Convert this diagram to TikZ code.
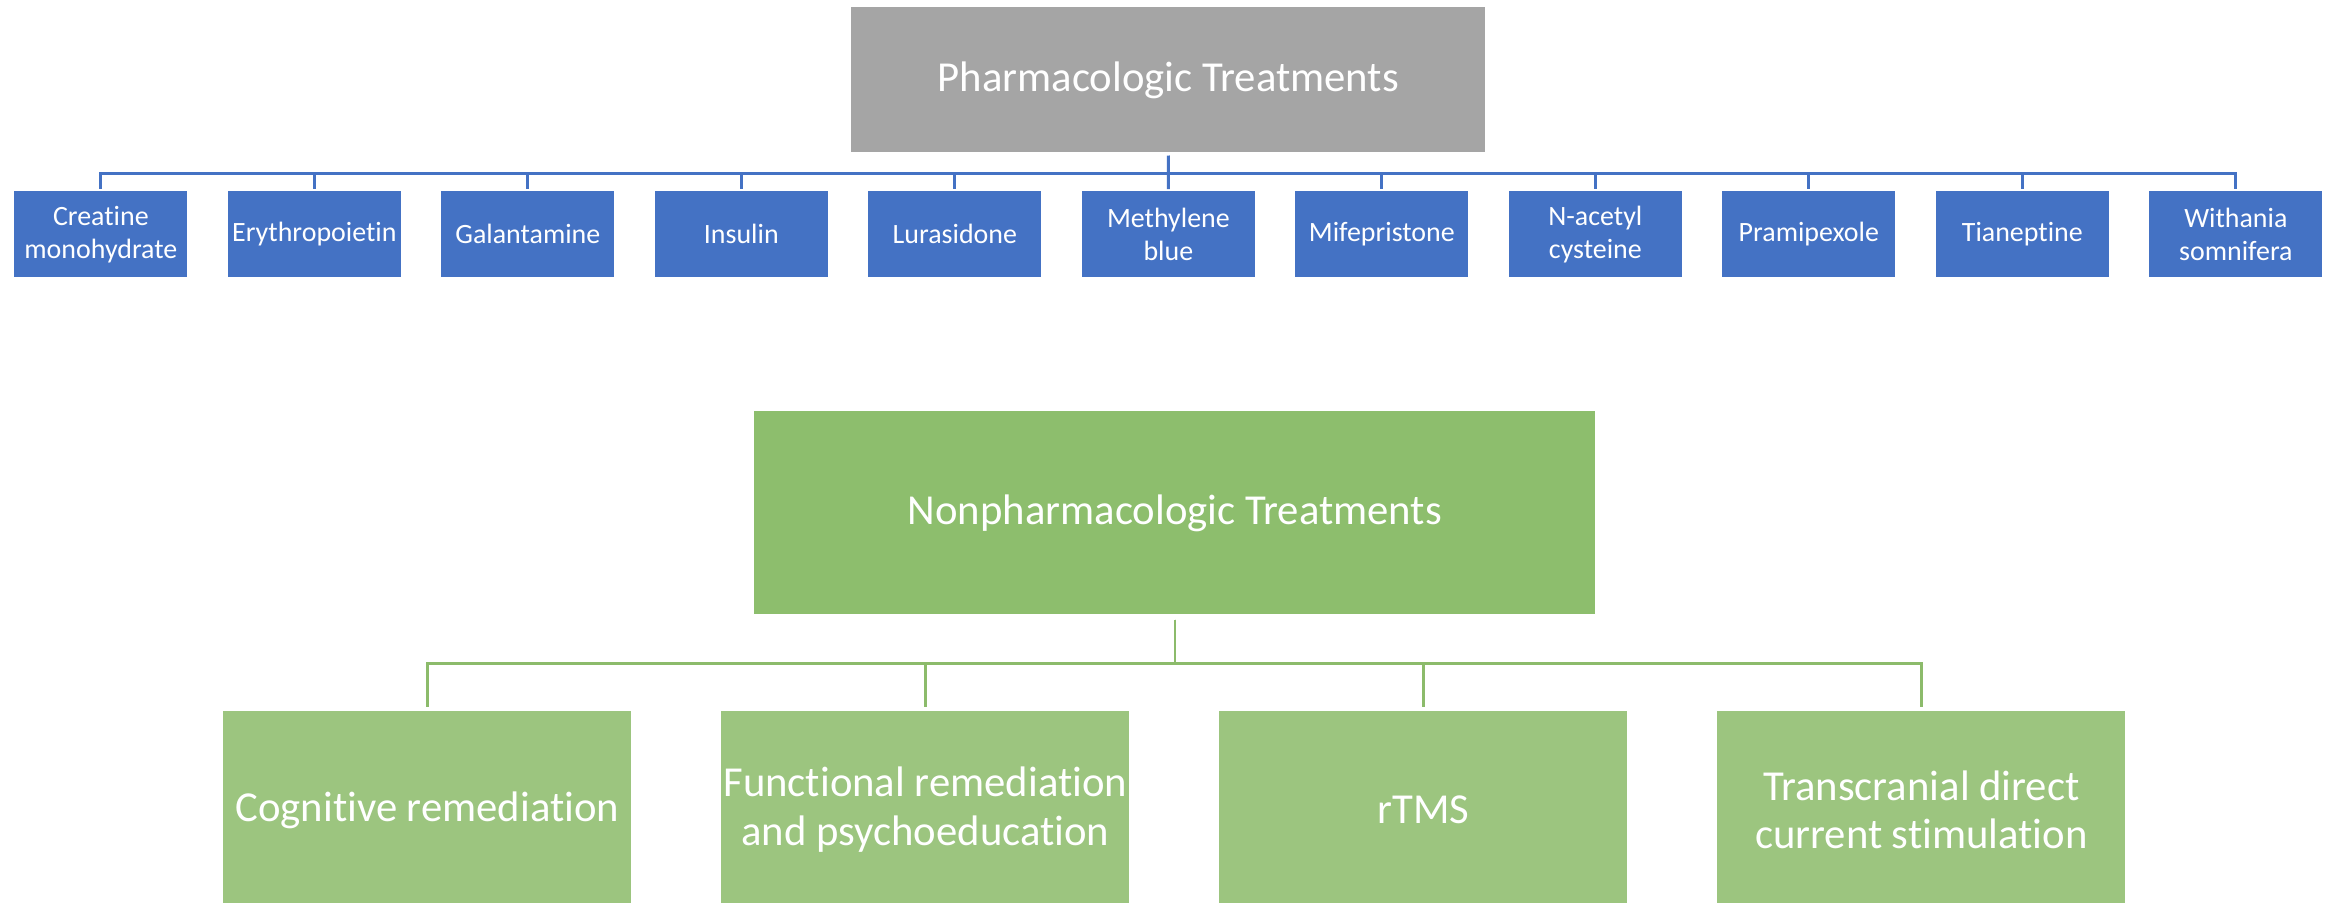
\documentclass[tikz,border=0pt]{standalone}
\usepackage{fontspec}
\setmainfont{Carlito}[RawFeature=-liga]
\definecolor{cpharm}{HTML}{A5A5A5}
\definecolor{cdrug}{HTML}{4472C4}
\definecolor{cnon}{HTML}{8DBE6D}
\definecolor{cnonleaf}{HTML}{9CC57F}
\definecolor{cnonline}{HTML}{8CBB6B}
\newcommand{\rootsize}{\fontsize{24.3}{27.6}\selectfont}
\newcommand{\leafsize}{\fontsize{15.9}{18.8}\selectfont}

\begin{document}
\begin{tikzpicture}[
  root/.style={fill=#1, text=white, inner sep=0pt, anchor=north west, align=center, font=\rootsize},
  drug/.style={fill=cdrug, text=white, inner sep=0pt, anchor=north west, align=center, font=\leafsize,
               minimum width=3.46cm, minimum height=1.72cm},
  treat/.style={fill=cnonleaf, text=white, inner sep=0pt, anchor=north west, align=center, font=\rootsize,
                minimum width=8.16cm, minimum height=3.94cm},
  plink/.style={draw=cdrug, line width=1.6pt, shorten <=0.06cm, shorten >=0.04cm},
  nlink/.style={draw=cnonline, line width=1.4pt, shorten <=0.1cm, shorten >=0.08cm},
]
\useasboundingbox (0,0) rectangle (46.56,-18.04);

% ------------------------------------------------------------ pharmacologic
\node[root=cpharm, minimum width=12.68cm, minimum height=2.9cm] (pharm) at (17.02,-0.14)
  {Pharmacologic Treatments};

\node[drug] (creatine) at (0.28,-3.82) {Creatine\\ monohydrate};
\node[drug] (epo)      at (4.55,-3.82) {Erythropoietin};
\node[drug] (galant)   at (8.82,-3.82) {Galantamine};
\node[drug] (insulin)  at (13.09,-3.82) {Insulin};
\node[drug] (lurasid)  at (17.36,-3.82) {Lurasidone};
\node[drug] (mblue)    at (21.63,-3.82) {Methylene\\ blue};
\node[drug] (mifep)    at (25.90,-3.82) {Mifepristone};
\node[drug] (nac)      at (30.17,-3.82) {N-acetyl\\ cysteine};
\node[drug] (pramip)   at (34.44,-3.82) {Pramipexole};
\node[drug] (tianep)   at (38.71,-3.82) {Tianeptine};
\node[drug] (withania) at (42.98,-3.82) {Withania\\ somnifera};

\coordinate (pbus) at ([yshift=-0.41cm]pharm.south);
\draw[plink] (pharm.south) -- (pbus) -| (creatine.north);
\draw[plink] (pharm.south) -- (pbus) -| (epo.north);
\draw[plink] (pharm.south) -- (pbus) -| (galant.north);
\draw[plink] (pharm.south) -- (pbus) -| (insulin.north);
\draw[plink] (pharm.south) -- (pbus) -| (lurasid.north);
\draw[plink] (pharm.south) -- (mblue.north);
\draw[plink] (pharm.south) -- (pbus) -| (mifep.north);
\draw[plink] (pharm.south) -- (pbus) -| (nac.north);
\draw[plink] (pharm.south) -- (pbus) -| (pramip.north);
\draw[plink] (pharm.south) -- (pbus) -| (tianep.north);
\draw[plink] (pharm.south) -- (pbus) -| (withania.north);

% ------------------------------------------------------------ nonpharmacologic
\node[root=cnon, minimum width=16.82cm, minimum height=4.06cm] (nonpharm) at (15.08,-8.22)
  {Nonpharmacologic Treatments};

\node[treat] (cogrem)  at (4.46,-14.22)  {Cognitive remediation};
\node[treat] (funcrem) at (14.42,-14.22) {Functional remediation\\ and psychoeducation};
\node[treat] (rtms)    at (24.38,-14.22) {rTMS};
\node[treat] (tdcs)    at (34.34,-14.22) {Transcranial direct\\ current stimulation};

\coordinate (nbus) at ([yshift=-0.98cm]nonpharm.south);
\draw[nlink] (nonpharm.south) -- (nbus) -| (cogrem.north);
\draw[nlink] (nonpharm.south) -- (nbus) -| (funcrem.north);
\draw[nlink] (nonpharm.south) -- (nbus) -| (rtms.north);
\draw[nlink] (nonpharm.south) -- (nbus) -| (tdcs.north);
\end{tikzpicture}
\end{document}
